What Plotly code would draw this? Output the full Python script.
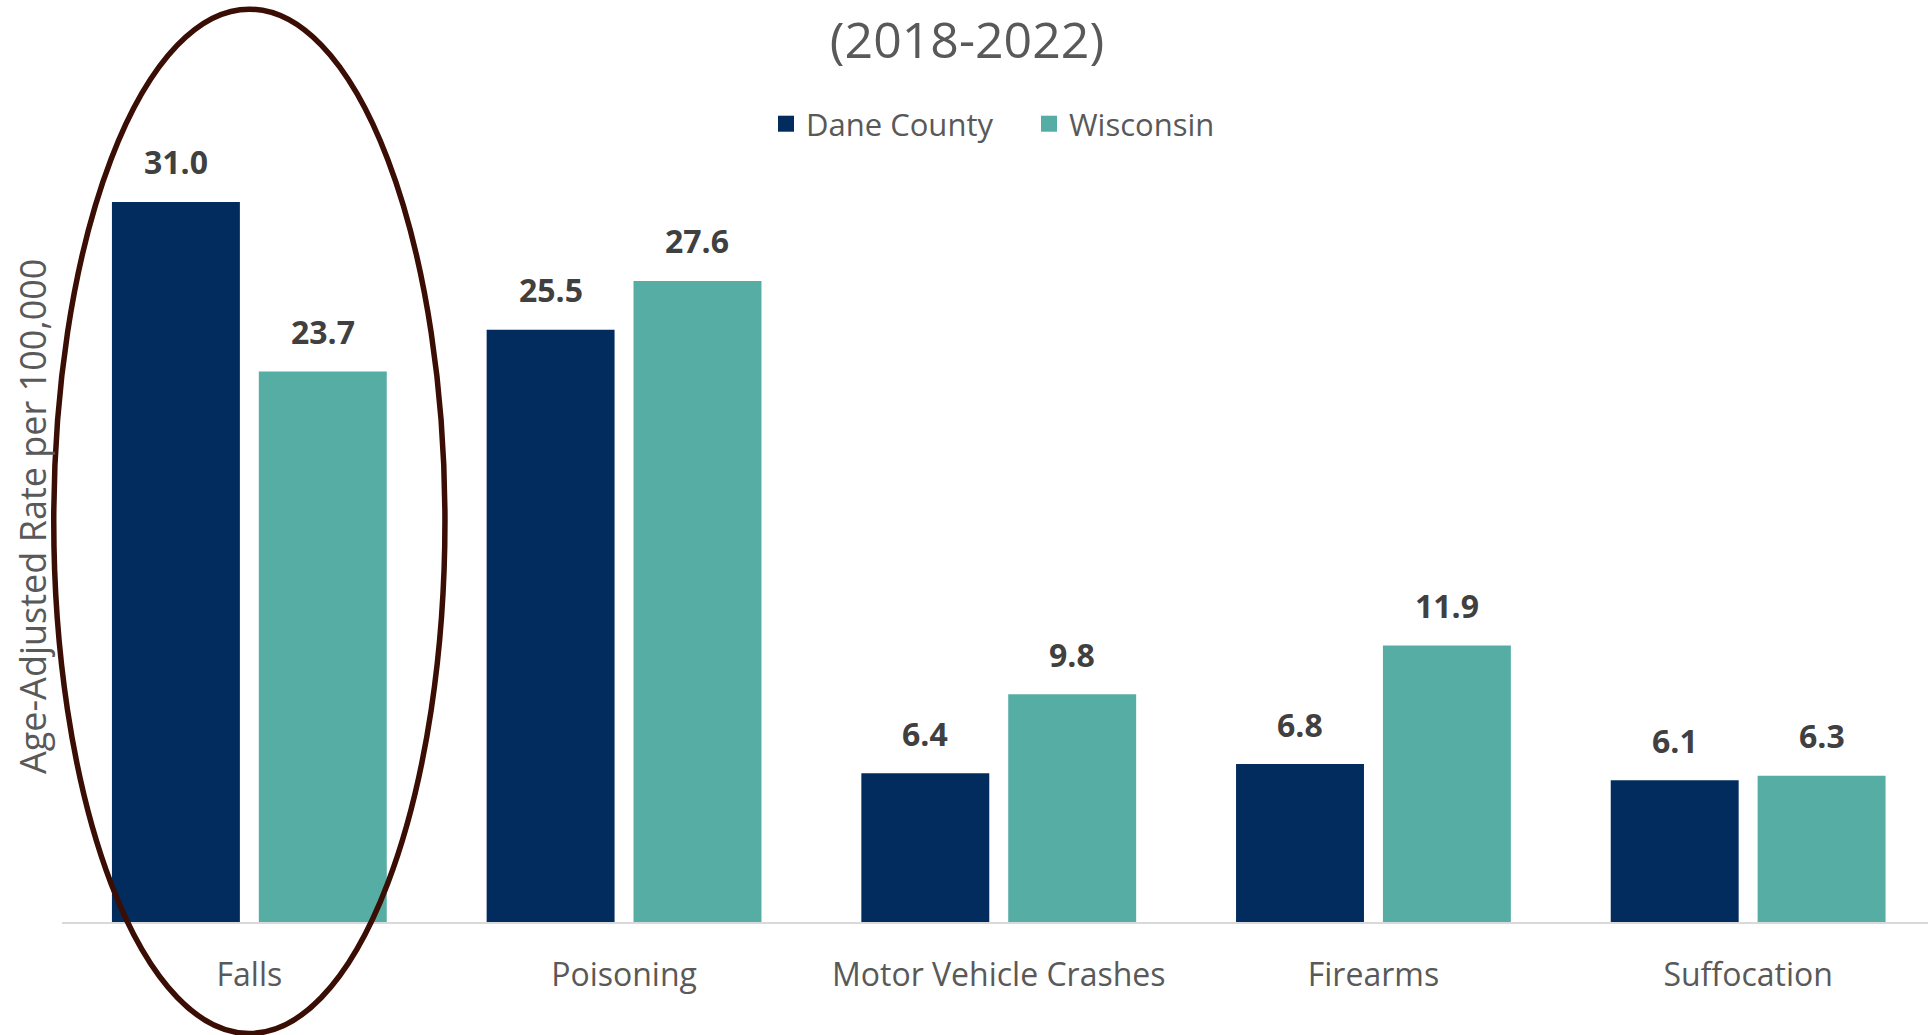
import plotly.graph_objects as go

# ---- data ----
categories = ["Falls", "Poisoning", "Motor Vehicle Crashes", "Firearms", "Suffocation"]
dane_county = [31.0, 25.5, 6.4, 6.8, 6.1]
wisconsin = [23.7, 27.6, 9.8, 11.9, 6.3]
series_names = ["Dane County", "Wisconsin"]
title_text = "(2018-2022)"
y_title = "Age-Adjusted Rate per 100,000"

# ---- style ----
W, H = 1928, 1035
ML, MR, MT, MB = 62, 0, 116, 113
C_DANE = "#022B5E"
C_WI = "#56ADA4"
TXT = "#595959"
LBL = "#404040"
FONT = "Open Sans"
BARGAP = 0.216
BARGROUPGAP = 0.129
X_RANGE = [-0.5, 4.48]
Y_RANGE = [0, 34.7]

plot_w = W - ML - MR
plot_h = H - MT - MB
px_per_cat = plot_w / (X_RANGE[1] - X_RANGE[0])
slot = px_per_cat * (1 - BARGAP) / 2


def paper_x(c):
    return (c - X_RANGE[0]) / (X_RANGE[1] - X_RANGE[0])


def paper_y(v):
    return (v - Y_RANGE[0]) / (Y_RANGE[1] - Y_RANGE[0])


fig = go.Figure()
for name, vals, col in [(series_names[0], dane_county, C_DANE), (series_names[1], wisconsin, C_WI)]:
    fig.add_trace(go.Bar(
        x=categories, y=vals, name=name, marker=dict(color=col, line=dict(width=0)),
        showlegend=False, hoverinfo="skip",
    ))
    # legend proxy with larger square symbol
    fig.add_trace(go.Scatter(
        x=[None], y=[None], mode="markers", name=name,
        marker=dict(symbol="square", size=16, color=col), showlegend=True,
    ))

annotations = []
for vals, sign in [(dane_county, -1), (wisconsin, 1)]:
    for cat, v in zip(categories, vals):
        annotations.append(dict(
            x=cat, y=v, xref="x", yref="y", text=f"<b>{v:.1f}</b>", showarrow=False,
            xanchor="center", yanchor="middle", xshift=sign * slot / 2, yshift=40,
            font=dict(family=FONT, size=32, color=LBL),
        ))

annotations.append(dict(
    x=(33 - ML) / plot_w, y=0.5025, xref="paper", yref="paper", text=y_title,
    textangle=-90, showarrow=False, xanchor="center", yanchor="middle",
    font=dict(family=FONT, size=36, color=TXT),
))

fig.update_layout(
    width=W, height=H,
    margin=dict(l=ML, r=MR, t=MT, b=MB),
    paper_bgcolor="white", plot_bgcolor="white",
    barmode="group", bargap=BARGAP, bargroupgap=BARGROUPGAP,
    title=dict(text=title_text, x=967 / W, xanchor="center", y=1 - 40 / H, yanchor="middle",
               yref="container", font=dict(family=FONT, size=50, color=TXT)),
    legend=dict(orientation="h", x=(766 - ML) / plot_w, xanchor="left",
                y=paper_y(Y_RANGE[1]) - 0.01, yanchor="middle",
                font=dict(family=FONT, size=31, color=TXT),
                bgcolor="rgba(0,0,0,0)", entrywidth=218),
    xaxis=dict(range=X_RANGE, showline=True, linecolor="#D9D9D9", linewidth=2,
               showgrid=False, ticks="", zeroline=False, ticklabelstandoff=24,
               tickfont=dict(family=FONT, size=32, color=TXT), fixedrange=True),
    yaxis=dict(range=Y_RANGE, showline=False, showgrid=False, zeroline=False,
               showticklabels=False, ticks="", fixedrange=True),
    annotations=annotations,
    shapes=[dict(type="circle", xref="paper", yref="paper",
                 x0=paper_x(-0.522), x1=paper_x(0.522),
                 y0=paper_y(-4.8), y1=paper_y(39.3),
                 line=dict(color="#3A0E04", width=5.5), fillcolor="rgba(0,0,0,0)", layer="above")],
)

fig.write_html("out.html")
